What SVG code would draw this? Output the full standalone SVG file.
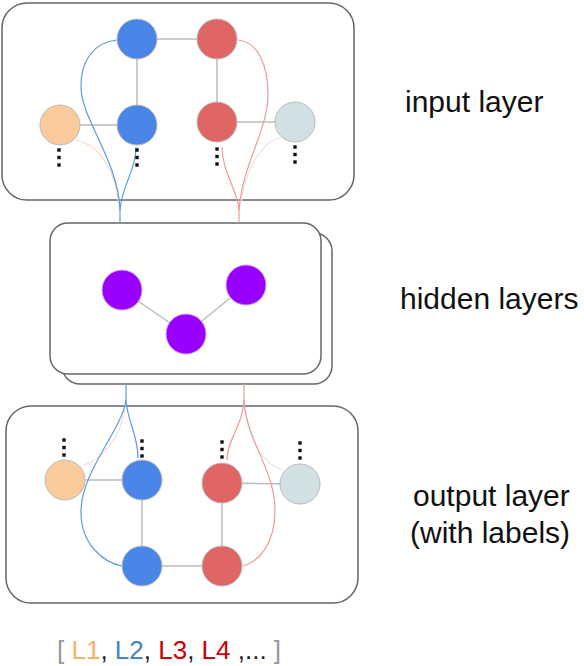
<svg xmlns="http://www.w3.org/2000/svg" width="584" height="666" viewBox="0 0 584 666">
<style>
.box{fill:#fff;stroke:#666;stroke-width:1.5}
.edge{stroke:#bbb;stroke-width:1.5;fill:none}
.n{stroke:#bbb;stroke-width:1}
.blue{fill:#4a86e8}.red{fill:#e06666}.org{fill:#f9cb9c}.gry{fill:#d0e0e3}.pur{fill:#9900ff;stroke:#c9a0ee}
.cb{stroke:#5b9be0;stroke-width:1.2;fill:none}
.cr{stroke:#ee9a9a;stroke-width:1.2;fill:none}
.co{stroke:#f8d8cc;stroke-width:1.2;fill:none}
.cg{stroke:#e4e4e4;stroke-width:1.2;fill:none}
.dot{fill:#111}
.lbl{font-family:"Liberation Sans",Arial,sans-serif;font-size:30px;fill:#111}
</style>
<defs>
<g id="dots"><rect class="dot" x="-1.7" y="-1.7" width="3.4" height="3.4"/><rect class="dot" x="-1.7" y="5.8" width="3.4" height="3.4"/><rect class="dot" x="-1.7" y="13.3" width="3.4" height="3.4"/></g>
</defs>

<g id="input-layer">
<rect class="box" x="2" y="3" width="352" height="197" rx="25"/>
</g>
<g id="hidden-layers">
<rect class="box" x="62" y="233" width="270" height="151" rx="18"/>
<rect class="box" x="50" y="223" width="271" height="151" rx="18"/>
</g>
<g id="output-layer">
<rect class="box" x="6" y="406" width="352" height="197" rx="25"/>
</g>

<g id="connectors">
<line class="edge" x1="137" y1="39" x2="217" y2="39"/>
<line class="edge" x1="137" y1="39" x2="137" y2="125"/>
<line class="edge" x1="217" y1="39" x2="217" y2="122"/>
<line class="edge" x1="60" y1="125" x2="137" y2="125"/>
<line class="edge" x1="217" y1="122" x2="295" y2="122"/>
<line class="edge" x1="122" y1="290" x2="186" y2="334"/>
<line class="edge" x1="246" y1="285" x2="186" y2="334"/>
<line class="edge" x1="65" y1="480" x2="142" y2="480"/>
<line class="edge" x1="142" y1="480" x2="142" y2="566"/>
<line class="edge" x1="142" y1="566" x2="222" y2="566"/>
<line class="edge" x1="222" y1="483" x2="222" y2="566"/>
<line class="edge" x1="222" y1="483" x2="300" y2="484"/>
<path class="co" d="M76,140 C100,145 115,170 119,205"/>
<path class="cg" d="M281,137 C262,142 244,170 241,205"/>
<path class="cb" d="M117,40 C95,42 80,60 81,88 C82,120 118,160 120,210 L120,223"/>
<path class="cb" d="M136,147 C136,170 122,185 120,210"/>
<path class="cr" d="M238,40 C258,42 268,65 268,95 C268,130 242,165 239,210 L239,223"/>
<path class="cr" d="M222,147 C222,172 237,188 239,210"/>
<path class="co" d="M125,405 C122,440 100,460 84,465"/>
<path class="cg" d="M245,410 C250,445 265,465 283,470"/>
<path class="cb" d="M126,384 L126,400 C127,420 138,435 138,458"/>
<path class="cb" d="M126,400 C122,430 82,470 81,510 C80,545 105,563 122,566"/>
<path class="cr" d="M244,384 L244,400 C243,425 227,440 227,460"/>
<path class="cr" d="M244,400 C246,440 275,470 275,510 C275,545 258,562 243,566"/>
</g>

<g id="in-blue-top"><circle class="n blue" cx="137" cy="39" r="20"/></g>
<g id="in-red-top"><circle class="n red" cx="217" cy="39" r="20"/></g>
<g id="in-orange"><circle class="n org" cx="60" cy="125" r="20"/><use href="#dots" x="59" y="150"/></g>
<g id="in-blue"><circle class="n blue" cx="137" cy="125" r="20"/><use href="#dots" x="137" y="150"/></g>
<g id="in-red"><circle class="n red" cx="217" cy="122" r="20"/><use href="#dots" x="217" y="149"/></g>
<g id="in-gray"><circle class="n gry" cx="295" cy="122" r="20"/><use href="#dots" x="295" y="147"/></g>

<g id="hid-1"><circle class="n pur" cx="122" cy="290" r="20"/></g>
<g id="hid-2"><circle class="n pur" cx="246" cy="285" r="20"/></g>
<g id="hid-3"><circle class="n pur" cx="186" cy="334" r="20"/></g>

<g id="out-orange"><circle class="n org" cx="65" cy="480" r="20"/><use href="#dots" x="64" y="440"/></g>
<g id="out-blue"><circle class="n blue" cx="142" cy="480" r="20"/><use href="#dots" x="142" y="441"/></g>
<g id="out-red"><circle class="n red" cx="222" cy="483" r="20"/><use href="#dots" x="222" y="442"/></g>
<g id="out-gray"><circle class="n gry" cx="300" cy="484" r="20"/><use href="#dots" x="300" y="443"/></g>
<g id="out-blue-bot"><circle class="n blue" cx="142" cy="566" r="20"/></g>
<g id="out-red-bot"><circle class="n red" cx="222" cy="566" r="20"/></g>

<g id="labels">
<text class="lbl" x="405" y="112">input layer</text>
<text class="lbl" x="400" y="309">hidden layers</text>
<text class="lbl" x="413" y="506">output layer</text>
<text class="lbl" x="410" y="543">(with labels)</text>
<text x="57" y="659" style="font-family:'Liberation Sans',Arial,sans-serif;font-size:26px"><tspan fill="#999">[ </tspan><tspan fill="#f6b26b">L1</tspan><tspan fill="#222">, </tspan><tspan fill="#3d85c6">L2</tspan><tspan fill="#222">, </tspan><tspan fill="#cc0000">L3</tspan><tspan fill="#222">, </tspan><tspan fill="#cc0000">L4</tspan><tspan fill="#222"> ,... </tspan><tspan fill="#999">]</tspan></text>
</g>
</svg>
